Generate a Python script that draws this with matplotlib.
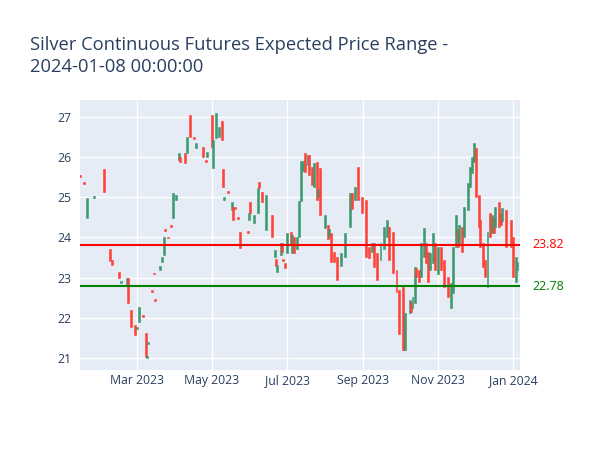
import matplotlib
matplotlib.use("Agg")
import matplotlib.pyplot as plt
import matplotlib.dates as mdates
import numpy as np
import pandas as pd

plt.rcParams['font.family'] = ['Open Sans', 'DejaVu Sans']

dates = ["2023-01-14", "2023-01-17", "2023-01-19", "2023-01-25", "2023-02-02", "2023-02-07",
         "2023-02-09", "2023-02-14", "2023-02-16", "2023-02-21", "2023-02-22", "2023-02-24",
         "2023-02-27", "2023-03-01", "2023-03-03", "2023-03-06", "2023-03-08", "2023-03-09",
         "2023-03-10", "2023-03-13", "2023-03-15", "2023-03-16", "2023-03-20", "2023-03-21",
         "2023-03-23", "2023-03-24", "2023-03-26", "2023-03-29", "2023-03-30", "2023-04-02",
         "2023-04-04", "2023-04-05", "2023-04-09", "2023-04-11", "2023-04-13", "2023-04-16",
         "2023-04-18", "2023-04-24", "2023-04-26", "2023-04-27", "2023-05-01", "2023-05-02",
         "2023-05-04", "2023-05-07", "2023-05-09", "2023-05-10", "2023-05-11", "2023-05-14",
         "2023-05-17", "2023-05-18", "2023-05-20", "2023-05-22", "2023-05-24", "2023-05-30",
         "2023-05-31", "2023-06-01", "2023-06-04", "2023-06-07", "2023-06-08", "2023-06-11",
         "2023-06-14", "2023-06-19", "2023-06-21", "2023-06-22", "2023-06-23", "2023-06-26",
         "2023-06-27", "2023-06-28", "2023-06-29", "2023-07-01", "2023-07-04", "2023-07-05",
         "2023-07-07", "2023-07-09", "2023-07-11", "2023-07-12", "2023-07-14", "2023-07-16",
         "2023-07-18", "2023-07-19", "2023-07-21", "2023-07-23", "2023-07-25", "2023-07-26",
         "2023-07-28", "2023-08-01", "2023-08-03", "2023-08-04", "2023-08-06", "2023-08-08",
         "2023-08-11", "2023-08-14", "2023-08-17", "2023-08-21", "2023-08-23", "2023-08-25",
         "2023-08-28", "2023-08-31", "2023-09-03", "2023-09-06", "2023-09-08", "2023-09-10",
         "2023-09-12", "2023-09-15", "2023-09-18", "2023-09-20", "2023-09-22", "2023-09-25",
         "2023-09-28", "2023-09-30", "2023-10-03", "2023-10-04", "2023-10-05", "2023-10-09",
         "2023-10-10", "2023-10-11", "2023-10-13", "2023-10-14", "2023-10-16", "2023-10-18",
         "2023-10-20", "2023-10-22", "2023-10-24", "2023-10-25", "2023-10-28", "2023-10-29",
         "2023-11-01", "2023-11-03", "2023-11-06", "2023-11-09", "2023-11-11", "2023-11-13",
         "2023-11-15", "2023-11-17", "2023-11-18", "2023-11-20", "2023-11-22", "2023-11-25",
         "2023-11-27", "2023-11-28", "2023-11-30", "2023-12-02", "2023-12-04", "2023-12-05",
         "2023-12-07", "2023-12-09", "2023-12-11", "2023-12-13", "2023-12-15", "2023-12-16",
         "2023-12-17", "2023-12-20", "2023-12-22", "2023-12-23", "2023-12-26", "2023-12-30",
         "2024-01-01", "2024-01-03", "2024-01-04"]

open_ = [25.55, 25.38, 24.49, 24.99, 25.70, 23.71,
         23.44, 23.14, 22.87, 22.85, 23.00, 22.20,
         21.82, 21.73, 21.90, 22.07, 21.62, 21.00,
         21.35, 22.69, 23.12, 22.46, 23.20, 23.40,
         23.56, 24.21, 24.02, 24.31, 24.49, 24.93,
         25.93, 26.00, 26.10, 26.10, 27.05, 26.50,
         26.23, 26.25, 25.92, 26.00, 27.05, 25.73,
         26.48, 26.50, 26.90, 25.70, 24.93, 25.15,
         24.68, 24.76, 24.75, 24.50, 24.14, 24.16,
         24.44, 24.88, 24.36, 24.60, 25.38, 25.13,
         24.19, 24.56, 23.51, 23.46, 23.14, 23.56,
         23.86, 23.46, 23.37, 23.61, 24.14, 23.60,
         24.00, 23.70, 24.00, 24.90, 25.65, 26.10,
         25.80, 26.05, 25.75, 25.25, 25.88, 25.00,
         25.73, 24.24, 24.30, 24.00, 24.11, 23.64,
         23.51, 23.30, 23.51, 24.26, 25.10, 24.93,
         25.75, 25.00, 24.93, 23.76, 23.64, 23.86,
         23.61, 23.44, 23.70, 24.00, 24.26, 24.14,
         23.19, 22.69, 22.77, 21.87, 21.20, 22.12,
         22.40, 22.25, 22.37, 23.25, 23.20, 23.02,
         23.51, 23.86, 23.64, 23.20, 23.37, 23.86,
         23.10, 23.76, 23.44, 23.02, 22.25, 22.62,
         23.76, 24.20, 23.86, 24.26, 24.01, 24.68,
         25.26, 25.60, 25.88, 26.23, 25.05, 24.44,
         23.86, 23.44, 22.77, 24.60, 24.10, 24.50,
         24.26, 24.88, 24.60, 24.40, 24.68, 24.44,
         24.00, 22.90, 23.20]

close = [25.50, 25.34, 24.98, 25.01, 25.13, 23.42,
         23.32, 22.99, 22.92, 23.00, 22.37, 21.77,
         21.57, 21.78, 22.27, 22.03, 21.03, 21.05,
         21.39, 22.65, 23.08, 22.42, 23.30, 23.50,
         24.00, 24.17, 23.98, 24.27, 25.10, 25.05,
         26.10, 25.88, 25.85, 26.50, 26.50, 26.46,
         26.35, 26.00, 25.88, 26.13, 26.25, 26.43,
         27.10, 26.75, 26.43, 25.26, 25.00, 25.11,
         24.88, 24.44, 24.71, 24.46, 23.74, 24.12,
         24.60, 24.60, 24.56, 25.23, 25.23, 24.88,
         25.05, 24.01, 23.69, 23.30, 23.32, 23.86,
         23.64, 23.42, 23.24, 24.11, 23.82, 24.05,
         23.60, 24.00, 24.90, 25.90, 25.90, 25.63,
         26.05, 25.55, 25.30, 25.85, 24.93, 25.20,
         24.56, 24.56, 23.95, 24.20, 23.39, 23.39,
         22.94, 23.60, 24.11, 25.10, 24.70, 25.26,
         24.93, 24.60, 23.51, 23.49, 23.86, 23.27,
         22.94, 23.86, 24.26, 24.44, 23.44, 23.12,
         22.64, 21.60, 21.20, 21.20, 22.12, 22.44,
         22.15, 22.52, 23.27, 23.02, 22.90, 23.86,
         24.24, 23.37, 22.90, 23.60, 24.11, 23.19,
         23.76, 23.20, 22.77, 22.52, 22.87, 23.76,
         24.56, 23.76, 24.30, 23.64, 24.76, 25.36,
         25.75, 26.00, 26.35, 25.00, 24.26, 23.76,
         23.27, 23.02, 24.14, 24.00, 24.56, 24.10,
         24.76, 24.26, 24.30, 24.73, 23.76, 23.76,
         23.02, 23.51, 23.40]

upper_level = 23.82
lower_level = 22.78
title_text = "Silver Continuous Futures Expected Price Range -\n2024-01-08 00:00:00"
x_ticks = ["2023-03-01", "2023-05-01", "2023-07-01", "2023-09-01", "2023-11-01", "2024-01-01"]
x_range = ["2023-01-13 16:00", "2024-01-06 10:00"]
y_ticks = [21, 22, 23, 24, 25, 26, 27]

inc_color = '#3D9970'
dec_color = '#FF4136'
txt_color = '#2a3f5f'

fig = plt.figure(figsize=(6, 4.5), dpi=100)
ax = fig.add_axes([80/600, 1-370/450, 440/600, 270/450])
ax.set_facecolor('#E5ECF6')

d = mdates.date2num(pd.to_datetime(dates))
o = np.array(open_)
c = np.array(close)
w = 1.6
for xi, oi, ci in zip(d, o, c):
    col = inc_color if ci >= oi else dec_color
    lo, hi = min(oi, ci), max(oi, ci)
    h = max(hi - lo, 0.04)
    ax.add_patch(plt.Rectangle((xi - w/2, lo), w, h, facecolor=col, edgecolor=col, lw=0.4, zorder=3))

ax.axhline(upper_level, color='red', lw=1.5, zorder=4)
ax.axhline(lower_level, color='green', lw=1.5, zorder=4)

ax.set_xlim(mdates.date2num(pd.to_datetime(x_range[0])), mdates.date2num(pd.to_datetime(x_range[1])))
ax.set_ylim(20.70, 27.42)
ax.set_yticks(y_ticks)
ax.set_xticks(mdates.date2num(pd.to_datetime(x_ticks)))
ax.xaxis.set_major_formatter(mdates.DateFormatter('%b %Y'))
ax.grid(True, color='white', lw=1, zorder=0)
ax.set_axisbelow(True)
for s in ax.spines.values():
    s.set_visible(False)
ax.tick_params(axis='y', length=0, labelsize=8.8, labelcolor=txt_color, pad=6)
ax.tick_params(axis='x', length=0, labelsize=8.8, labelcolor=txt_color, pad=3)

ax.text(1.0 + 28/440, upper_level, f"{upper_level:.2f}", color='red', fontsize=9,
        transform=ax.get_yaxis_transform(), ha='center', va='center')
ax.text(1.0 + 28/440, lower_level, f"{lower_level:.2f}", color='green', fontsize=9,
        transform=ax.get_yaxis_transform(), ha='center', va='center')

fig.text(30/600, 1-56/450, title_text, color=txt_color, fontsize=13.2, ha='left', va='center',
         linespacing=1.3)

fig.savefig("out.png", dpi=100, facecolor='white')
